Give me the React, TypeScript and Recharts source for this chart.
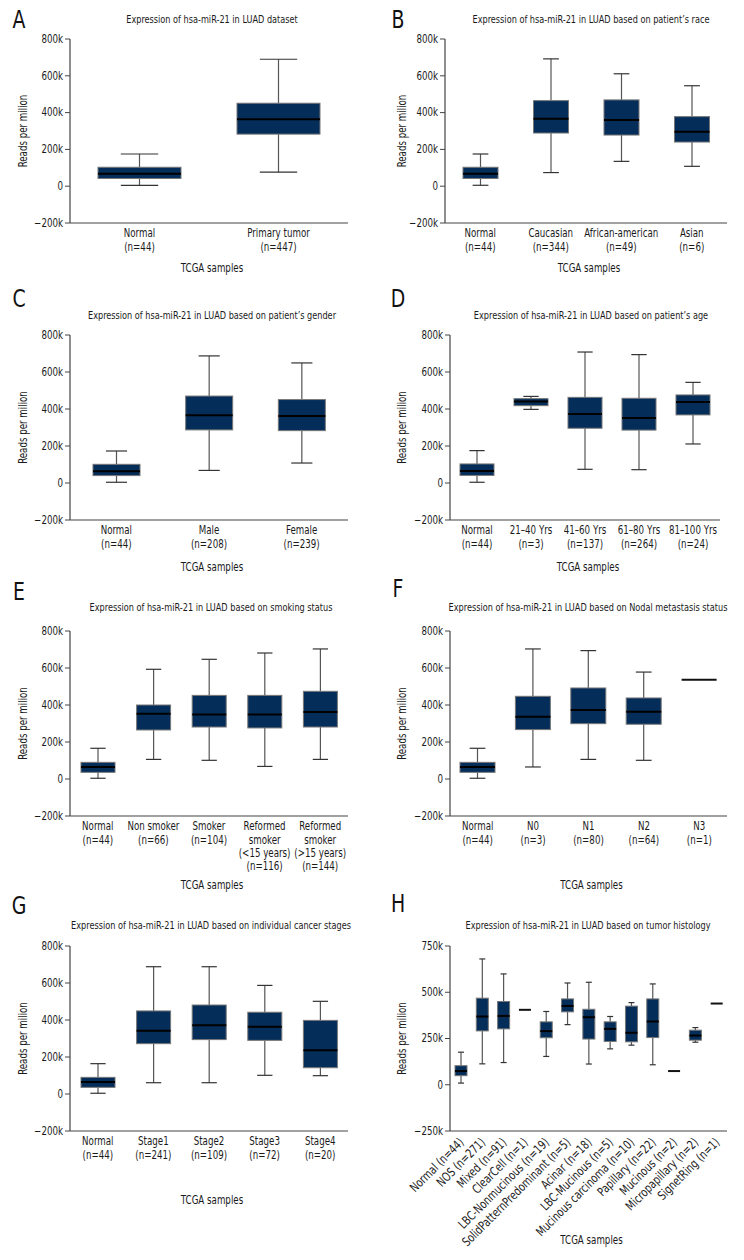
import React from 'react';
import { ComposedChart, Bar, XAxis, YAxis } from 'recharts';

// each stat row: [min, Q1, median, Q3, max] in reads per million
const datasetLabels = ['Normal\n(n=44)', 'Primary tumor\n(n=447)'];
const datasetStats = [
  [5000, 42000, 67000, 103000, 175000],
  [76000, 283000, 364000, 451000, 690000],
];

const raceLabels = ['Normal\n(n=44)', 'Caucasian\n(n=344)', 'African-american\n(n=49)', 'Asian\n(n=6)'];
const raceStats = [
  [5000, 42000, 67000, 103000, 175000],
  [74000, 289000, 366000, 465000, 692000],
  [135000, 278000, 360000, 469000, 611000],
  [108000, 240000, 296000, 378000, 546000],
];

const genderLabels = ['Normal\n(n=44)', 'Male\n(n=208)', 'Female\n(n=239)'];
const genderStats = [
  [4000, 40000, 63000, 101000, 173000],
  [68000, 287000, 366000, 470000, 687000],
  [108000, 283000, 362000, 451000, 649000],
];

const ageLabels = ['Normal\n(n=44)', '21\u201340 Yrs\n(n=3)', '41\u201360 Yrs\n(n=137)', '61\u201380 Yrs\n(n=264)', '81\u2013100 Yrs\n(n=24)'];
const ageStats = [
  [4000, 41000, 65000, 103000, 175000],
  [398000, 418000, 441000, 456000, 468000],
  [74000, 296000, 373000, 463000, 708000],
  [72000, 286000, 351000, 458000, 694000],
  [211000, 368000, 438000, 476000, 544000],
];

const smokingLabels = [
  'Normal\n(n=44)',
  'Non smoker\n(n=66)',
  'Smoker\n(n=104)',
  'Reformed\nsmoker\n(<15 years)\n(n=116)',
  'Reformed\nsmoker\n(>15 years)\n(n=144)',
];
const smokingStats = [
  [4000, 36000, 65000, 90000, 166000],
  [106000, 265000, 353000, 400000, 593000],
  [101000, 281000, 348000, 452000, 647000],
  [68000, 276000, 348000, 452000, 681000],
  [106000, 281000, 362000, 474000, 703000],
];

const nodalLabels = ['Normal\n(n=44)', 'N0\n(n=3)', 'N1\n(n=80)', 'N2\n(n=64)', 'N3\n(n=1)'];
const nodalStats = [
  [4000, 36000, 65000, 90000, 166000],
  [65000, 267000, 337000, 447000, 703000],
  [106000, 299000, 373000, 492000, 694000],
  [101000, 296000, 364000, 438000, 578000],
  [537000, 537000, 537000, 537000, 537000],
];

const stageLabels = ['Normal\n(n=44)', 'Stage1\n(n=241)', 'Stage2\n(n=109)', 'Stage3\n(n=72)', 'Stage4\n(n=20)'];
const stageStats = [
  [4000, 36000, 65000, 90000, 164000],
  [61000, 272000, 342000, 449000, 688000],
  [61000, 294000, 371000, 481000, 688000],
  [101000, 290000, 364000, 442000, 587000],
  [99000, 142000, 236000, 398000, 501000],
];

const histologyLabels = [
  'Normal (n=44)',
  'NOS (n=271)',
  'Mixed (n=91)',
  'ClearCell (n=1)',
  'LBC-Nonmucinous (n=19)',
  'SolidPatternPredominant (n=5)',
  'Acinar (n=18)',
  'LBC-Mucinous (n=5)',
  'Mucinous carcinoma (n=10)',
  'Papillary (n=22)',
  'Mucinous (n=2)',
  'Micropapillary (n=2)',
  'SignetRing (n=1)',
];
const histologyStats = [
  [9000, 49000, 74000, 103000, 176000],
  [113000, 291000, 369000, 468000, 680000],
  [120000, 302000, 372000, 450000, 599000],
  [405000, 405000, 405000, 405000, 405000],
  [153000, 254000, 290000, 340000, 396000],
  [325000, 394000, 426000, 464000, 550000],
  [112000, 247000, 365000, 408000, 554000],
  [194000, 234000, 302000, 340000, 369000],
  [214000, 232000, 281000, 425000, 444000],
  [108000, 255000, 342000, 464000, 545000],
  [74000, 74000, 74000, 74000, 74000],
  [230000, 241000, 266000, 295000, 309000],
  [439000, 439000, 439000, 439000, 439000],
];

const ticks800 = [-200000, 0, 200000, 400000, 600000, 800000];
const ticks750 = [-250000, 0, 250000, 500000, 750000];

const FONT = '"DejaVu Sans Condensed", "DejaVu Sans", sans-serif';
const SQUEEZE = 0.84;
const NAVY = '#042d5a';
const AXIS = '#444';
const TEXT = '#1a1a1a';

const fmtK = (v: number) => (v === 0 ? '0' : v < 0 ? `\u2212${Math.abs(v) / 1000}k` : `${v / 1000}k`);

// condensed text: the installed fonts are wider than the original's
function NarrowText({ x, y, size, anchor = 'middle', rotate = 0, children, fill = TEXT }: any) {
  return (
    <g transform={`translate(${x},${y}) rotate(${rotate}) scale(${SQUEEZE},1)`}>
      <text x={0} y={0} textAnchor={anchor} dominantBaseline="central" fontSize={size} fontFamily={FONT} fill={fill}>
        {children}
      </text>
    </g>
  );
}

function BoxShape(props: any) {
  const { x, y, width, height, payload } = props;
  const [lo, q1, med, q3, hi] = payload.stats;
  const top = Math.min(y, y + height);
  const h = Math.abs(height);
  if (hi === lo) {
    return <line x1={x} x2={x + width} y1={top} y2={top} stroke="#111" strokeWidth={2} />;
  }
  const py = (v: number) => top + ((hi - v) / (hi - lo)) * h;
  const cx = x + width / 2;
  const cap = Math.max(width * 0.45, 6);
  return (
    <g>
      <line x1={cx} x2={cx} y1={py(hi)} y2={py(q3)} stroke="#555" strokeWidth={1.2} />
      <line x1={cx} x2={cx} y1={py(q1)} y2={py(lo)} stroke="#555" strokeWidth={1.2} />
      <line x1={cx - cap / 2} x2={cx + cap / 2} y1={py(hi)} y2={py(hi)} stroke="#333" strokeWidth={1.2} />
      <line x1={cx - cap / 2} x2={cx + cap / 2} y1={py(lo)} y2={py(lo)} stroke="#333" strokeWidth={1.2} />
      <rect x={x} y={py(q3)} width={width} height={py(q1) - py(q3)} fill={NAVY} stroke="#777" strokeWidth={1} />
      <line x1={x} x2={x + width} y1={py(med)} y2={py(med)} stroke="#000" strokeWidth={2} />
    </g>
  );
}

interface Geo {
  left: number;
  axisX: number;
  right: number;
  top: number;
  bottom: number;
  barSize: number;
  xh: number;
  tcga: number;
  ylabX: number;
}

function MultiTick(props: any) {
  const { x, y, payload } = props;
  const lines = String(payload.value).split('\n');
  return (
    <g>
      {lines.map((l, i) => (
        <NarrowText key={i} x={x} y={y + 10.5 + i * 13.3} size={11.5}>
          {l}
        </NarrowText>
      ))}
    </g>
  );
}

function RotTick(props: any) {
  const { x, y, payload } = props;
  return (
    <NarrowText x={x + 1} y={y + 9} size={12.5} anchor="end" rotate={-45}>
      {payload.value}
    </NarrowText>
  );
}

function YTick(props: any) {
  const { x, y, payload } = props;
  return (
    <NarrowText x={x} y={y} size={11.5} anchor="end">
      {fmtK(payload.value)}
    </NarrowText>
  );
}

function BoxPanel({ labels, stats, geo, ticks, rotated }: { labels: string[]; stats: number[][]; geo: Geo; ticks: number[]; rotated?: boolean }) {
  const data = labels.map((label, i) => ({ label, range: [stats[i][0], stats[i][4]], stats: stats[i] }));
  const pad = 8;
  const h = geo.bottom - geo.top + pad + geo.xh;
  return (
    <div style={{ position: 'absolute', left: geo.left, top: geo.top - pad }}>
      <ComposedChart
        width={372}
        height={h}
        data={data}
        margin={{ top: pad, right: geo.left + 372 - geo.right, bottom: 0, left: 0 }}
      >
        <XAxis
          dataKey="label"
          interval={0}
          tickLine={false}
          tickSize={0}
          tickMargin={0}
          height={geo.xh}
          axisLine={{ stroke: AXIS, strokeWidth: 1.2 }}
          tick={rotated ? <RotTick /> : <MultiTick />}
          label={{
            content: ({ viewBox }: any) => (
              <NarrowText x={viewBox.x + viewBox.width / 2 + 3} y={viewBox.y + geo.tcga} size={11.5}>
                TCGA samples
              </NarrowText>
            ),
          }}
        />
        <YAxis
          width={geo.axisX - geo.left}
          domain={[ticks[0], ticks[ticks.length - 1]]}
          ticks={ticks}
          interval={0}
          allowDataOverflow
          tickSize={5}
          tickMargin={2}
          tickLine={{ stroke: AXIS }}
          axisLine={{ stroke: AXIS, strokeWidth: 1.2 }}
          tick={<YTick />}
          label={{
            content: ({ viewBox }: any) => (
              <NarrowText x={viewBox.x + geo.ylabX} y={viewBox.y + viewBox.height / 2} size={11.5} rotate={-90}>
                Reads per milion
              </NarrowText>
            ),
          }}
        />
        <Bar dataKey="range" barSize={geo.barSize} shape={BoxShape} isAnimationActive={false} />
      </ComposedChart>
    </div>
  );
}

const titles = [
  { t: 'Expression of hsa-miR-21 in LUAD dataset', x: 212, y: 19 },
  { t: 'Expression of hsa-miR-21 in LUAD based on patient\u2019s race', x: 591, y: 19 },
  { t: 'Expression of hsa-miR-21 in LUAD based on patient\u2019s gender', x: 212, y: 315 },
  { t: 'Expression of hsa-miR-21 in LUAD based on patient\u2019s age', x: 591, y: 315 },
  { t: 'Expression of hsa-miR-21 in LUAD based on smoking status', x: 211, y: 607 },
  { t: 'Expression of hsa-miR-21 in LUAD based on Nodal metastasis status', x: 588, y: 607 },
  { t: 'Expression of hsa-miR-21 in LUAD based on individual cancer stages', x: 211, y: 925 },
  { t: 'Expression of hsa-miR-21 in LUAD based on tumor histology', x: 588, y: 925 },
];

const letters = [
  { t: 'A', x: 19, y: 19 },
  { t: 'B', x: 398, y: 19 },
  { t: 'C', x: 19, y: 298 },
  { t: 'D', x: 398, y: 298 },
  { t: 'E', x: 19, y: 591 },
  { t: 'F', x: 398, y: 588 },
  { t: 'G', x: 19, y: 905 },
  { t: 'H', x: 398, y: 903 },
];

export default function App() {
  return (
    <div style={{ position: 'absolute', left: 0, top: 0, width: 744, height: 1260, background: '#fff', fontFamily: FONT }}>
      <svg width={744} height={1260} style={{ position: 'absolute', left: 0, top: 0 }}>
        {titles.map((d) => (
          <NarrowText key={d.t} x={d.x} y={d.y} size={10.8}>
            {d.t}
          </NarrowText>
        ))}
        {letters.map((d) => (
          <NarrowText key={d.t} x={d.x} y={d.y} size={25} fill="#111">
            {d.t}
          </NarrowText>
        ))}
      </svg>
      <BoxPanel labels={datasetLabels} stats={datasetStats} ticks={ticks800}
        geo={{ left: 0, axisX: 70, right: 348, top: 39, bottom: 223, barSize: 83, xh: 60, tcga: 45, ylabX: 23 }} />
      <BoxPanel labels={raceLabels} stats={raceStats} ticks={ticks800}
        geo={{ left: 372, axisX: 445, right: 727, top: 39, bottom: 223, barSize: 35, xh: 60, tcga: 45, ylabX: 30 }} />
      <BoxPanel labels={genderLabels} stats={genderStats} ticks={ticks800}
        geo={{ left: 0, axisX: 70, right: 348, top: 335, bottom: 520, barSize: 47, xh: 60, tcga: 47, ylabX: 23 }} />
      <BoxPanel labels={ageLabels} stats={ageStats} ticks={ticks800}
        geo={{ left: 372, axisX: 450, right: 720, top: 335, bottom: 520, barSize: 34, xh: 60, tcga: 47, ylabX: 30 }} />
      <BoxPanel labels={smokingLabels} stats={smokingStats} ticks={ticks800}
        geo={{ left: 0, axisX: 70, right: 348, top: 631, bottom: 816, barSize: 34, xh: 80, tcga: 69, ylabX: 23 }} />
      <BoxPanel labels={nodalLabels} stats={nodalStats} ticks={ticks800}
        geo={{ left: 372, axisX: 450, right: 727, top: 631, bottom: 816, barSize: 35, xh: 80, tcga: 69, ylabX: 30 }} />
      <BoxPanel labels={stageLabels} stats={stageStats} ticks={ticks800}
        geo={{ left: 0, axisX: 70, right: 348, top: 946, bottom: 1131, barSize: 34, xh: 80, tcga: 69, ylabX: 23 }} />
      <BoxPanel labels={histologyLabels} stats={histologyStats} ticks={ticks750} rotated
        geo={{ left: 372, axisX: 450, right: 727, top: 946, bottom: 1131, barSize: 12, xh: 120, tcga: 109, ylabX: 30 }} />
    </div>
  );
}
